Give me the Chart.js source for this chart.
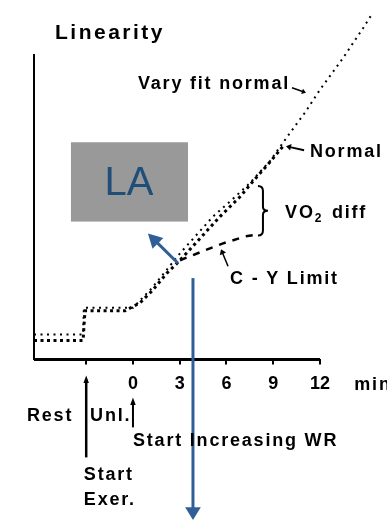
<!DOCTYPE html>
<html lang="en">
<head>
<meta charset="UTF-8">
<title>Linearity</title>
<script src="https://cdn.jsdelivr.net/npm/chart.js"></script>
<style>
  html, body { margin: 0; padding: 0; background: #fff; }
  #wrap { width: 387px; height: 521px; }
</style>
</head>
<body>
<div id="wrap"><canvas id="c" width="387" height="521"></canvas></div>
<script>
// time in min (0 = start of increasing work rate), VO2 in L/min
const veryFitX = [-6.35, -3.2, -3.15, 0, 1.22, 3.02, 5.13, 6.42, 7.51, 8.79, 10.01, 11.04, 12.0, 13.48, 14.76, 15.4];
const veryFitY = [0.25, 0.25, 0.52, 0.52, 0.72, 1.07, 1.44, 1.62, 1.78, 2.0, 2.27, 2.49, 2.72, 3.04, 3.34, 3.5];

const normalX = [-6.35, -3.2, -3.08, -0.51, 0.45, 1.22, 2.18, 3.02, 4.3, 5.58, 6.87, 7.83, 8.79, 9.63];
const normalY = [0.19, 0.19, 0.49, 0.49, 0.57, 0.69, 0.87, 1.0, 1.22, 1.44, 1.64, 1.82, 1.99, 2.15];

const cyLimitX = [3.02, 3.66, 4.62, 5.78, 7.19, 8.02];
const cyLimitY = [1.0, 1.04, 1.1, 1.17, 1.24, 1.26];

const xTicks = [-3, 0, 3, 6, 9, 12];
const xAxisEnd = 12;

const pts = (xs, ys) => xs.map((x, i) => ({ x: x, y: ys[i] }));
const BOLD = 'bold 18px "Liberation Sans", Arial, sans-serif';
const BLUE = '#2f5f96';

function arrow(ctx, x1, y1, x2, y2, head, spread, width, color) {
  const a = Math.atan2(y2 - y1, x2 - x1);
  ctx.strokeStyle = color;
  ctx.fillStyle = color;
  ctx.lineWidth = width;
  ctx.beginPath();
  ctx.moveTo(x1, y1);
  ctx.lineTo(x2 - Math.cos(a) * head * 0.7, y2 - Math.sin(a) * head * 0.7);
  ctx.stroke();
  ctx.beginPath();
  ctx.moveTo(x2, y2);
  ctx.lineTo(x2 - head * Math.cos(a - spread), y2 - head * Math.sin(a - spread));
  ctx.lineTo(x2 - head * Math.cos(a + spread), y2 - head * Math.sin(a + spread));
  ctx.closePath();
  ctx.fill();
}

function label(ctx, text, x, y, font) {
  ctx.font = font || BOLD;
  ctx.fillStyle = '#000';
  ctx.textAlign = 'left';
  ctx.textBaseline = 'alphabetic';
  ctx.fillText(text, x, y);
}

const notes = {
  id: 'notes',
  afterDraw(chart) {
    const { ctx, chartArea: area, scales: { x, y } } = chart;
    const X = v => x.getPixelForValue(v);
    const Y = v => y.getPixelForValue(v);
    const b = area.bottom;
    ctx.save();

    // x axis line stops at 12 min
    ctx.strokeStyle = '#000';
    ctx.lineWidth = 3;
    ctx.beginPath();
    ctx.moveTo(area.left, b);
    ctx.lineTo(X(xAxisEnd), b);
    ctx.stroke();

    // title
    ctx.letterSpacing = '2.5px';
    label(ctx, 'Linearity', 55, 39, 'bold 21px "Liberation Sans", Arial, sans-serif');
    ctx.letterSpacing = '1.8px';

    // curve labels
    label(ctx, 'Vary fit normal', X(0.32), Y(2.73));
    arrow(ctx, X(10.2), Y(2.74), X(11.1), Y(2.69), 5, 0.6, 1.5, '#000');
    label(ctx, 'Normal', X(11.36), Y(2.04));
    arrow(ctx, X(10.98), Y(2.11), X(9.82), Y(2.15), 6, 0.6, 2, '#000');

    // VO2 diff brace
    const bx = X(8.02), tip = X(8.66), top = Y(1.75), bot = Y(1.25), mid = (top + bot) / 2;
    const cx = (bx + tip) / 2;
    ctx.strokeStyle = '#000';
    ctx.lineWidth = 2;
    ctx.beginPath();
    ctx.moveTo(bx, top);
    ctx.quadraticCurveTo(cx, top, cx, top + 5);
    ctx.lineTo(cx, mid - 4);
    ctx.quadraticCurveTo(cx, mid, tip, mid);
    ctx.quadraticCurveTo(cx, mid, cx, mid + 4);
    ctx.lineTo(cx, bot - 5);
    ctx.quadraticCurveTo(cx, bot, bx, bot);
    ctx.stroke();
    ctx.font = BOLD;
    let tx = X(9.76);
    const ty = Y(1.43);
    ctx.fillText('VO', tx, ty);
    tx += ctx.measureText('VO').width;
    ctx.font = 'bold 12px "Liberation Sans", Arial, sans-serif';
    ctx.fillText('2', tx, ty + 4);
    tx += ctx.measureText('2').width + 2;
    ctx.font = BOLD;
    ctx.fillText(' diff', tx, ty);

    label(ctx, 'C - Y Limit', X(6.23), Y(0.76));
    arrow(ctx, X(6.1), Y(0.94), X(5.65), Y(1.11), 6, 0.6, 1.5, '#000');

    // LA box and blue arrows
    ctx.fillStyle = '#999999';
    ctx.fillRect(X(-3.98), Y(2.19), X(3.53) - X(-3.98), Y(1.39) - Y(2.19));
    ctx.letterSpacing = '0px';
    ctx.font = '40px "Liberation Sans", Arial, sans-serif';
    ctx.fillStyle = '#1f4e79';
    ctx.textAlign = 'center';
    ctx.textBaseline = 'middle';
    ctx.fillText('LA', X(-0.26), Y(1.77));
    ctx.letterSpacing = '1.8px';
    arrow(ctx, X(2.89), Y(0.97), X(0.96), Y(1.27), 16, 0.5, 3, BLUE);
    arrow(ctx, X(3.85), Y(0.82), X(3.85), 520, 15, 0.55, 3, BLUE);

    // below the axis
    label(ctx, 'min', X(14.2), b + 31);
    arrow(ctx, X(-3), b + 98, X(-3), b + 16, 8, 0.35, 2.5, '#000');
    arrow(ctx, X(0), b + 68, X(0), b + 38, 8, 0.35, 2, '#000');
    label(ctx, 'Rest', X(-6.8), b + 62);
    label(ctx, 'Unl.', X(-2.75), b + 62);
    label(ctx, 'Start Increasing WR', X(0), b + 87);
    label(ctx, 'Start', X(-3.15), b + 121);
    label(ctx, 'Exer.', X(-3.15), b + 146);
    ctx.restore();
  }
};

new Chart(document.getElementById('c'), {
  type: 'line',
  data: {
    datasets: [
      {
        label: 'Very fit normal',
        data: pts(veryFitX, veryFitY),
        borderColor: '#000',
        borderWidth: 2,
        borderDash: [2, 4.5],
        pointRadius: 0,
        clip: false
      },
      {
        label: 'Normal',
        data: pts(normalX, normalY),
        borderColor: '#000',
        borderWidth: 3,
        borderDash: [3, 3.5],
        pointRadius: 0,
        clip: false
      },
      {
        label: 'C-Y Limit',
        data: pts(cyLimitX, cyLimitY),
        borderColor: '#000',
        borderWidth: 2.5,
        borderDash: [7, 7],
        pointRadius: 0,
        clip: false
      }
    ]
  },
  options: {
    responsive: false,
    animation: false,
    devicePixelRatio: 1,
    layout: { padding: { left: 34, right: 7, top: 55, bottom: 117 } },
    plugins: { legend: { display: false }, tooltip: { enabled: false } },
    scales: {
      x: {
        type: 'linear',
        min: -6.35,
        max: 15.85,
        afterBuildTicks: s => { s.ticks = xTicks.map(v => ({ value: v })); },
        ticks: {
          callback: v => (v < 0 ? '' : v),
          color: '#000',
          font: { family: '"Liberation Sans", Arial, sans-serif', weight: 'bold', size: 18 },
          padding: 9,
          maxRotation: 0,
          autoSkip: false
        },
        grid: { drawOnChartArea: false, drawTicks: true, tickLength: 5, color: '#000', lineWidth: 2 },
        border: { display: false }
      },
      y: {
        min: 0,
        max: 3.07,
        ticks: { display: false },
        grid: { display: false, drawTicks: false },
        border: { color: '#000', width: 2 }
      }
    }
  },
  plugins: [notes]
});
</script>
</body>
</html>
